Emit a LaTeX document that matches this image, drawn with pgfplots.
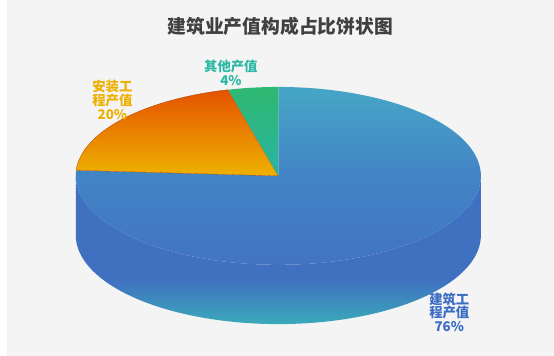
\documentclass[border=0pt]{standalone}
\usepackage{fontspec}
\setmainfont{Noto Sans CJK SC}
\usepackage{pgfplots}
\usepackage{pgfplotstable}
\pgfplotsset{compat=1.18}
\definecolor{bg}{HTML}{F4F4F4}
\definecolor{titlec}{HTML}{404040}
\definecolor{blueTop}{HTML}{46A6C6}
\definecolor{blueMid}{HTML}{4284C5}
\definecolor{blueBot}{HTML}{4274C2}
\definecolor{sideBlue}{HTML}{4070C0}
\definecolor{sideTeal}{HTML}{3AAABA}
\definecolor{orTop}{HTML}{E45200}
\definecolor{orBot}{HTML}{EEB200}
\definecolor{grTop}{HTML}{2FB870}
\definecolor{grBot}{HTML}{2AB4A2}
\definecolor{labBlue}{HTML}{3A6CC6}
\definecolor{labOr}{HTML}{EEB000}
\definecolor{labGr}{HTML}{2DB8A5}
\pgfdeclareverticalshading{pieside}{100bp}{color(0bp)=(sideTeal); color(25bp)=(sideTeal); color(31bp)=(sideTeal!60!sideBlue); color(40bp)=(sideBlue); color(100bp)=(sideBlue)}
\pgfplotstableread{
slice value
1 76
2 20
3 4
}\piedata
\begin{document}
\pgfplotstablegetelem{0}{value}\of\piedata \let\va\pgfplotsretval
\pgfplotstablegetelem{1}{value}\of\piedata \let\vb\pgfplotsretval
\pgfplotstablegetelem{2}{value}\of\piedata \let\vc\pgfplotsretval
\pgfmathsetmacro\aA{90-3.6*\va}
\pgfmathsetmacro\aB{\aA-3.6*\vb}
\pgfmathsetmacro\aC{\aB-3.6*\vc}
\begin{tikzpicture}
\useasboundingbox (0,0) rectangle (554bp,360bp);
\fill[bg] (0,0) rectangle (554bp,360bp);
\begin{axis}[at={(0,0)}, anchor=south west,
  width=554bp, height=360bp, scale only axis,
  xmin=0, xmax=554, ymin=0, ymax=360, y dir=reverse,
  hide axis, clip=false]
% side of the pie
\addplot[draw=none, shading=pieside, domain=180:540, samples=361, variable=\t]
  ({275+205*cos(\t)}, {178+90*abs(sin(\t))+60*(\t<360)}) -- cycle;
% top face slices
\addplot[draw=none, top color=blueTop, bottom color=blueBot, middle color=blueMid, domain=\aA:90, samples=240, variable=\t]
  ({275+205*cos(\t)}, {178-90*sin(\t)}) -- (axis cs:275,178) -- cycle;
\addplot[draw=orTop!75!black, line width=0.3pt, top color=orTop, bottom color=orBot, domain=\aB:\aA, samples=80, variable=\t]
  ({275+205*cos(\t)}, {178-90*sin(\t)}) -- (axis cs:275,178) -- cycle;
\addplot[draw=none, top color=grTop, bottom color=grBot, domain=\aC:\aB, samples=20, variable=\t]
  ({275+205*cos(\t)}, {178-90*sin(\t)}) -- (axis cs:275,178) -- cycle;
% labels
\node[font=\fontsize{19bp}{21bp}\selectfont\bfseries, text=titlec] at (axis cs:277,27) {建筑业产值构成占比饼状图};
\node[font=\fontsize{13.5bp}{14bp}\selectfont\bfseries, text=labOr, align=center] at (axis cs:107,101) {安装工\\程产值\\20\%};
\node[font=\fontsize{13.5bp}{14bp}\selectfont\bfseries, text=labGr, align=center] at (axis cs:227,74) {其他产值\\4\%};
\node[font=\fontsize{13.5bp}{14bp}\selectfont\bfseries, text=labBlue, align=center] at (axis cs:448,316) {建筑工\\程产值\\76\%};
\end{axis}
\end{tikzpicture}
\end{document}
